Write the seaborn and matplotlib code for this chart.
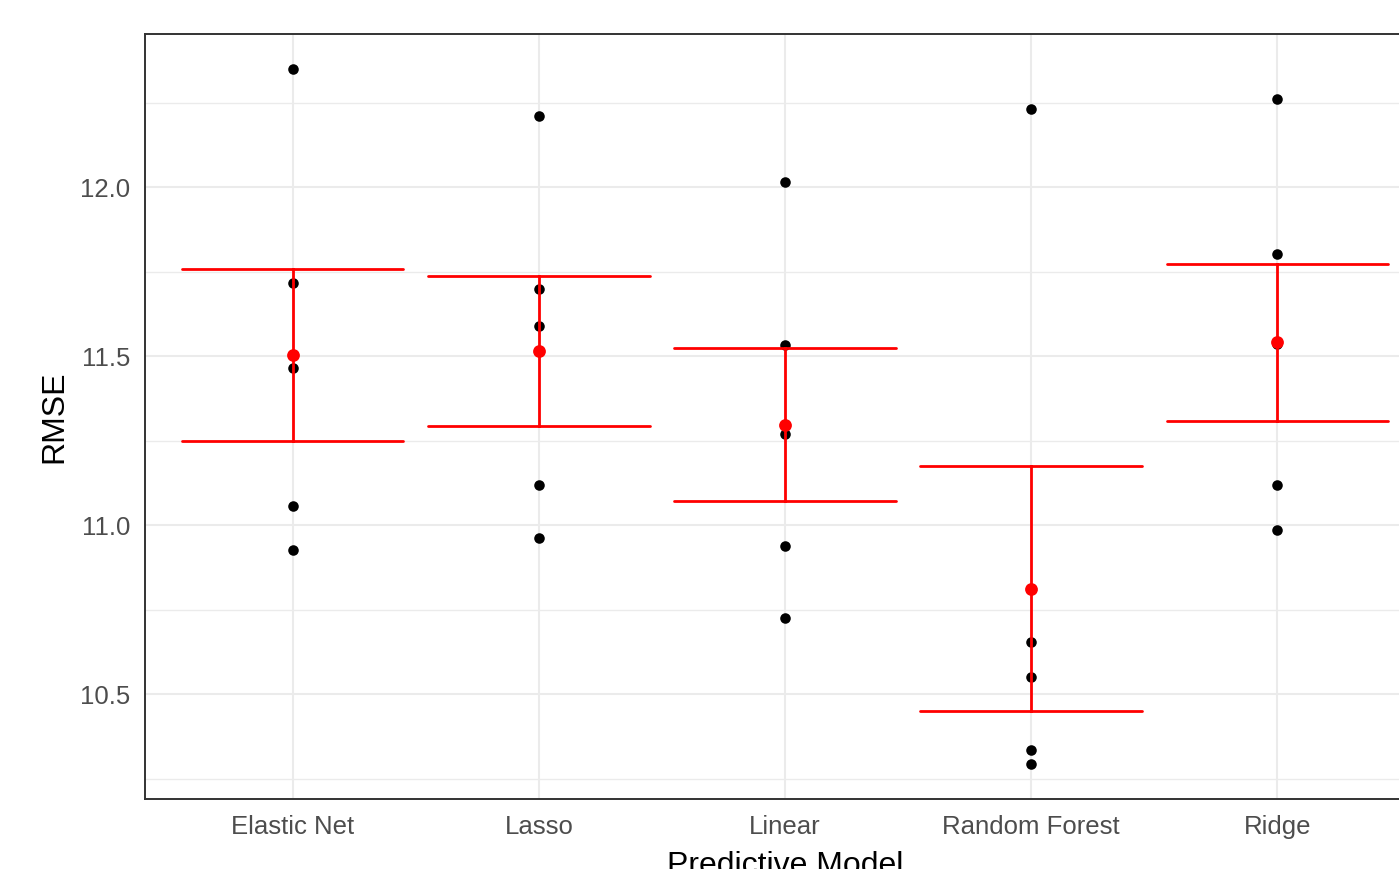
import matplotlib
matplotlib.use("Agg")
import matplotlib.pyplot as plt
from matplotlib.ticker import MultipleLocator
import seaborn as sns
import numpy as np
import pandas as pd

models = ["Elastic Net", "Lasso", "Linear", "Random Forest", "Ridge"]
elastic_net = [12.351, 11.717, 11.466, 11.058, 10.928]
lasso = [12.210, 11.699, 11.590, 11.120, 10.961]
linear = [12.015, 11.534, 11.271, 10.940, 10.727]
random_forest = [12.233, 10.654, 10.550, 10.335, 10.293]
ridge = [12.263, 11.802, 11.536, 11.120, 10.987]

values = [elastic_net, lasso, linear, random_forest, ridge]
df = pd.DataFrame({
    "model": np.repeat(models, [len(v) for v in values]),
    "rmse": np.concatenate(values),
})

sns.set_theme(style="white")
plt.rcParams["font.family"] = ["Liberation Sans", "DejaVu Sans"]

W, H = 1399, 869
fig = plt.figure(figsize=(W / 100, H / 100), dpi=100)
left, right, top, bottom = 145, 1425, 34, 799
ax = fig.add_axes([left / W, (H - bottom) / H, (right - left) / W, (bottom - top) / H])
ax.set_facecolor("white")

sns.stripplot(data=df, x="model", y="rmse", order=models, jitter=False,
              color="black", size=7.6, linewidth=0, ax=ax, zorder=3)
sns.pointplot(data=df, x="model", y="rmse", order=models, errorbar="se",
              color="red", linestyle="none", markers="o", markersize=9.2,
              markeredgewidth=0, capsize=0.9, err_kws={"linewidth": 2.0},
              ax=ax, zorder=4)

# y limits with ggplot-like 5% expansion
g = df.groupby("model")["rmse"]
m = g.mean(); se = g.sem()
lo = min(df["rmse"].min(), (m - se).min())
hi = max(df["rmse"].max(), (m + se).max())
pad = (hi - lo) * 0.05
ax.set_ylim(lo - pad, hi + pad)
ax.set_xlim(-0.6, len(models) - 0.4)

ax.yaxis.set_major_locator(MultipleLocator(0.5))
ax.yaxis.set_minor_locator(MultipleLocator(0.25))
ax.yaxis.set_major_formatter(matplotlib.ticker.FormatStrFormatter("%.1f"))
ax.grid(True, which="major", color="#EBEBEB", linewidth=1.5, zorder=0)
ax.grid(True, which="minor", axis="y", color="#EBEBEB", linewidth=1.0, zorder=0)
ax.set_axisbelow(True)

for s in ax.spines.values():
    s.set_color("#333333")
    s.set_linewidth(1.4)

ax.tick_params(axis="both", which="major", length=4.5, width=1.4, color="#333333",
               labelsize=18.5, labelcolor="#4D4D4D", pad=6)
ax.tick_params(axis="y", which="minor", length=0)
ax.tick_params(axis="x", pad=7)

ax.set_xlabel("Predictive Model", fontsize=23, color="black", labelpad=9)
ax.set_ylabel("RMSE", fontsize=23, color="black", labelpad=8)

fig.savefig("out.png", dpi=100, facecolor="white")
